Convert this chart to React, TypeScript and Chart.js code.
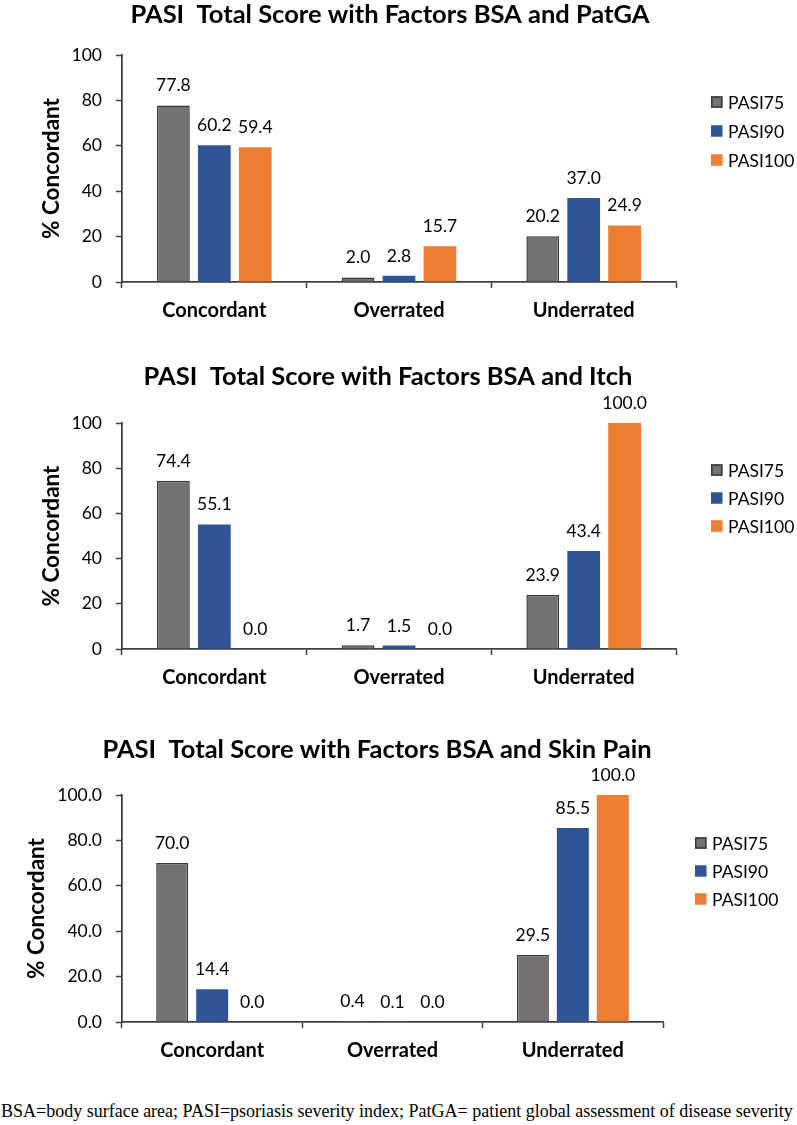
import React, { useEffect, useRef } from "react";
import { Chart, registerables } from "chart.js";

Chart.register(...registerables);

// ---------- data ----------
const categories = ["Concordant", "Overrated", "Underrated"];
const seriesNames = ["PASI75", "PASI90", "PASI100"];

const chartTitles = [
  "PASI  Total Score with Factors BSA and PatGA",
  "PASI  Total Score with Factors BSA and Itch",
  "PASI  Total Score with Factors BSA and Skin Pain",
];

const patgaPasi75 = [77.8, 2.0, 20.2];
const patgaPasi90 = [60.2, 2.8, 37.0];
const patgaPasi100 = [59.4, 15.7, 24.9];

const itchPasi75 = [74.4, 1.7, 23.9];
const itchPasi90 = [55.1, 1.5, 43.4];
const itchPasi100 = [0.0, 0.0, 100.0];

const painPasi75 = [70.0, 0.4, 29.5];
const painPasi90 = [14.4, 0.1, 85.5];
const painPasi100 = [0.0, 0.0, 100.0];

const yTickValues = [0, 20, 40, 60, 80, 100];
const yTickDecimals = [0, 0, 1];
const yAxisTitle = "% Concordant";

const footnote =
  "BSA=body surface area; PASI=psoriasis severity index; PatGA= patient global assessment of disease severity";

const allSeries = [
  [patgaPasi75, patgaPasi90, patgaPasi100],
  [itchPasi75, itchPasi90, itchPasi100],
  [painPasi75, painPasi90, painPasi100],
];

// ---------- styles ----------
const seriesColors = ["#767171", "#2F5597", "#ED7D31"];
const seriesBorderColors = ["#3A3838", "#2F5597", "#ED7D31"];
const seriesBorderWidths = [1.5, 0, 0];
const FONT = "Lato, 'Open Sans', sans-serif";
const AXIS_COLOR = "#3F3F3F";
const X_SCALE_H = 40;
const Y_TITLE_SIZE = 22.5;

const layouts = [
  { top: 0, height: 330, plotTop: 55, plotBottom: 282, plotRight: 676, titleX: 390, titleY: 15, yTitleX: 52, legendX: 711, legendY: [102, 131, 160] },
  { top: 330, height: 360, plotTop: 93, plotBottom: 319, plotRight: 676, titleX: 388, titleY: 47, yTitleX: 52, legendX: 711, legendY: [140, 168, 196] },
  { top: 690, height: 380, plotTop: 105, plotBottom: 332, plotRight: 663, titleX: 377, titleY: 60, yTitleX: 37, legendX: 695, legendY: [153, 181, 209] },
];

function buildChart(canvas: HTMLCanvasElement, idx: number) {
  const L = layouts[idx];
  const series = allSeries[idx];
  const decimals = yTickDecimals[idx];

  const overlay = {
    id: "overlay" + idx,
    afterDatasetsDraw(chart: any) {
      const ctx = chart.ctx;
      ctx.save();
      ctx.fillStyle = "#000";
      ctx.font = `17.5px ${FONT}`;
      ctx.textAlign = "center";
      ctx.textBaseline = "alphabetic";
      chart.data.datasets.forEach((ds: any, i: number) => {
        const meta = chart.getDatasetMeta(i);
        meta.data.forEach((el: any, j: number) => {
          const v = ds.data[j] as number;
          ctx.fillText(v.toFixed(1), el.x, el.y - 14);
        });
      });
      ctx.restore();
    },
    afterDraw(chart: any) {
      const ctx = chart.ctx;
      ctx.save();
      // title
      ctx.fillStyle = "#000";
      ctx.font = `bold 25.5px ${FONT}`;
      ctx.textAlign = "center";
      ctx.textBaseline = "middle";
      ctx.fillText(chartTitles[idx], L.titleX, L.titleY);
      // legend
      ctx.font = `17.5px ${FONT}`;
      ctx.textAlign = "left";
      seriesNames.forEach((name, i) => {
        const y = L.legendY[i];
        const s = 11.5;
        ctx.fillStyle = seriesColors[i];
        ctx.fillRect(L.legendX, y - s / 2, s, s);
        if (seriesBorderWidths[i] > 0) {
          ctx.strokeStyle = seriesBorderColors[i];
          ctx.lineWidth = 1.5;
          ctx.strokeRect(L.legendX + 0.75, y - s / 2 + 0.75, s - 1.5, s - 1.5);
        }
        ctx.fillStyle = "#000";
        ctx.fillText(name, L.legendX + 17, y + 1);
      });
      ctx.restore();
    },
  };

  return new Chart(canvas, {
    type: "bar",
    data: {
      labels: categories,
      datasets: seriesNames.map((name, i) => ({
        label: name,
        data: series[i],
        backgroundColor: seriesColors[i],
        borderColor: seriesBorderColors[i],
        borderWidth: seriesBorderWidths[i],
        categoryPercentage: 0.665,
        barPercentage: 0.8,
      })),
    },
    options: {
      responsive: false,
      animation: false,
      layout: {
        padding: {
          left: 0,
          right: 797 - L.plotRight,
          top: L.plotTop,
          bottom: L.height - L.plotBottom - X_SCALE_H,
        },
      },
      plugins: {
        legend: { display: false },
        title: { display: false },
        tooltip: { enabled: false },
      },
      scales: {
        x: {
          afterFit: (s: any) => {
            s.height = X_SCALE_H;
          },
          grid: {
            display: true,
            drawOnChartArea: false,
            drawTicks: true,
            tickLength: 6,
            tickColor: AXIS_COLOR,
            tickWidth: 1.5,
            offset: true,
          },
          border: { display: true, color: AXIS_COLOR, width: 1.75 },
          ticks: {
            color: "#000",
            padding: 11,
            font: { family: FONT, size: 20, weight: "bold" },
          },
        },
        y: {
          min: 0,
          max: 100,
          afterFit: (s: any) => {
            s.width = 122;
          },
          afterBuildTicks: (s: any) => {
            s.ticks = yTickValues.map((v) => ({ value: v }));
          },
          grid: {
            display: true,
            drawOnChartArea: false,
            drawTicks: true,
            tickLength: 6,
            tickColor: AXIS_COLOR,
            tickWidth: 1.5,
          },
          border: { display: true, color: AXIS_COLOR, width: 1.75 },
          ticks: {
            color: "#000",
            padding: 14,
            font: { family: FONT, size: 17.5 },
            callback: (v: any) => Number(v).toFixed(decimals),
          },
          title: {
            display: true,
            text: yAxisTitle,
            color: "#000",
            font: { family: FONT, size: Y_TITLE_SIZE, weight: "bold" },
            padding: { top: L.yTitleX - (Y_TITLE_SIZE * 1.2) / 2, bottom: 0 },
          },
        },
      },
    },
    plugins: [overlay],
  } as any);
}

export default function App() {
  const r0 = useRef<HTMLCanvasElement>(null);
  const r1 = useRef<HTMLCanvasElement>(null);
  const r2 = useRef<HTMLCanvasElement>(null);

  useEffect(() => {
    const refs = [r0, r1, r2];
    const charts = refs.map((r, i) => buildChart(r.current as HTMLCanvasElement, i));
    return () => charts.forEach((c) => c.destroy());
  }, []);

  const refs = [r0, r1, r2];
  return (
    <div style={{ position: "absolute", left: 0, top: 0, width: 797, height: 1125, background: "#fff" }}>
      {layouts.map((L, i) => (
        <canvas
          key={i}
          ref={refs[i]}
          width={797}
          height={L.height}
          style={{ position: "absolute", left: 0, top: L.top, width: 797, height: L.height, display: "block" }}
        />
      ))}
      <div
        style={{
          position: "absolute",
          left: 1,
          top: 1101,
          whiteSpace: "nowrap",
          fontFamily: "'Liberation Serif', 'Times New Roman', serif",
          fontSize: 18,
          lineHeight: "20px",
          color: "#000",
        }}
      >
        {footnote}
      </div>
    </div>
  );
}
